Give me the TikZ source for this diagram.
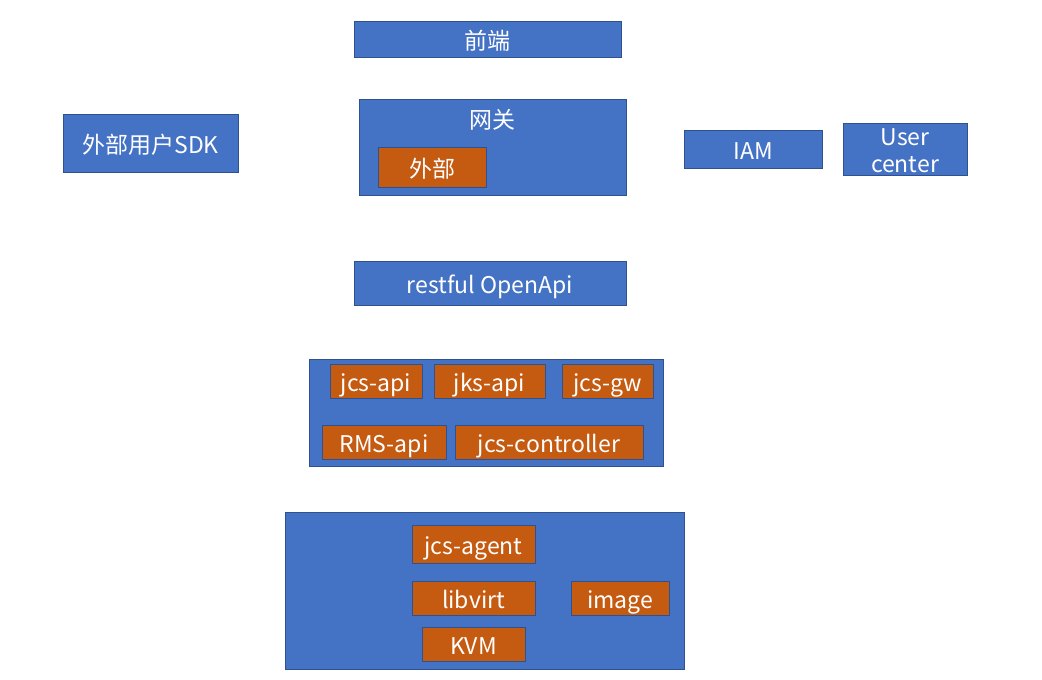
\documentclass[tikz,border=0pt]{standalone}
\usepackage{fontspec}
\setmainfont{Noto Sans CJK SC}
\usepackage{tikz}
\definecolor{boxblue}{HTML}{4472C4}
\definecolor{edgeblue}{HTML}{2F528F}
\definecolor{boxorange}{HTML}{C55A11}
\tikzset{
  lbl/.style={text=white,inner sep=0pt,font=\fontsize{23}{27}\selectfont,text height=26pt,text depth=5pt},
  blk/.style={lbl,draw=edgeblue,fill=boxblue,line width=1pt},
  sub/.style={lbl,draw=edgeblue,fill=boxorange,line width=1pt},
}
\begin{document}
\begin{tikzpicture}[x=1pt,y=-1pt]
          \useasboundingbox (0,0) rectangle (1042,680);

          % top row
          \node[blk,minimum width=267,minimum height=36] (front) at (487.5,39) {前端};
          \node[blk,minimum width=175,minimum height=58] (sdk) at (150.5,143) {外部用户SDK};

          % gateway
          \node[blk,minimum width=267,minimum height=96] (gw) at (492.5,147) {};
          \node[lbl] (gwlabel) at (492.5,118) {网关};
          \node[sub,minimum width=108,minimum height=40] (ext) at (432,167) {外部};

          \node[blk,minimum width=138,minimum height=38] (iam) at (753,149) {IAM};
          \node[blk,minimum width=124,minimum height=52,align=center,text height=49pt,text depth=3pt] (uc) at (905,149) {User\\center};

          % openapi
          \node[blk,minimum width=272,minimum height=44] (openapi) at (490,283) {restful OpenApi};

          % services
          \node[blk,minimum width=354,minimum height=107] (svc) at (486,412.5) {};
          \node[sub,minimum width=92,minimum height=34] (jcsapi) at (376,381) {jcs-api};
          \node[sub,minimum width=111,minimum height=34] (jksapi) at (489.5,381) {jks-api};
          \node[sub,minimum width=91,minimum height=34] (jcsgw) at (607.5,381) {jcs-gw};
          \node[sub,minimum width=124,minimum height=34] (rms) at (384,442) {RMS-api};
          \node[sub,minimum width=188,minimum height=34] (ctrl) at (549,442) {jcs-controller};

          % host
          \node[blk,minimum width=399,minimum height=157] (host) at (484.5,590.5) {};
          \node[sub,minimum width=123,minimum height=38] (agent) at (473.5,544) {jcs-agent};
          \node[sub,minimum width=123,minimum height=34] (libvirt) at (473.5,598) {libvirt};
          \node[sub,minimum width=98,minimum height=34] (image) at (620,598) {image};
          \node[sub,minimum width=103,minimum height=34] (kvm) at (473.5,644) {KVM};

        \end{tikzpicture}
\end{document}
